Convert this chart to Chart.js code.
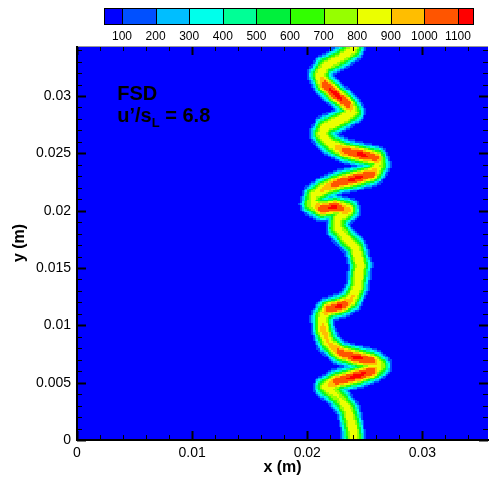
<!DOCTYPE html>
<html>
<head>
<meta charset="utf-8">
<script src="https://cdn.jsdelivr.net/npm/chart.js@4/dist/chart.umd.min.js"></script>
<style>
  body { margin: 0; background: #fff; }
</style>
</head>
<body>
<canvas id="fsd" width="489" height="480"></canvas>
<script>
// flame front centre line (m), bottom to top
var flameX = [0.02409, 0.02391, 0.02357, 0.02270, 0.02157, 0.02261, 0.02435, 0.02565, 0.02635, 0.02565,
              0.02443, 0.02287, 0.02183, 0.02139, 0.02130, 0.02183, 0.02287, 0.02374, 0.02435, 0.02461,
              0.02417, 0.02330, 0.02261, 0.02270, 0.02357, 0.02243, 0.02130, 0.02035, 0.02061, 0.02157,
              0.02287, 0.02435, 0.02565, 0.02626, 0.02600, 0.02478, 0.02330, 0.02200, 0.02122, 0.02157,
              0.02287, 0.02400, 0.02348, 0.02243, 0.02157, 0.02104, 0.02157, 0.02287, 0.02391, 0.02417];
var flameY = [-0.00035, 0.00113, 0.00262, 0.00375, 0.00462, 0.00515, 0.00558, 0.00602, 0.00645, 0.00689,
              0.00715, 0.00759, 0.00846, 0.00959, 0.01073, 0.01142, 0.01169, 0.01212, 0.01334, 0.01526,
              0.01683, 0.01770, 0.01849, 0.01936, 0.02006, 0.02032, 0.02014, 0.02058, 0.02137, 0.02198,
              0.02250, 0.02285, 0.02320, 0.02398, 0.02459, 0.02485, 0.02520, 0.02581, 0.02669, 0.02730,
              0.02791, 0.02860, 0.02930, 0.03017, 0.03096, 0.03183, 0.03262, 0.03331, 0.03401, 0.03471];
// peak FSD along the centre line
var flamePeak = [900, 900, 850, 800, 850, 1080, 1130, 1080, 800, 1050,
                 1130, 1050, 900, 950, 850, 1050, 1130, 950, 850, 900,
                 850, 850, 850, 850, 950, 1130, 1080, 800, 850, 950,
                 1080, 1130, 1050, 800, 1050, 1130, 1050, 850, 850, 900,
                 900, 850, 1080, 1130, 1080, 850, 850, 850, 850, 850];
var flameWidth = 0.0008; // thickness of the FSD profile (m)

var levels = [100, 200, 300, 400, 500, 600, 700, 800, 900, 1000, 1100];
var levelColors = ['#0000ff', '#0050ff', '#00beff', '#00ffeb', '#00ff96', '#00f03c',
                   '#32ff00', '#96ff00', '#ebff00', '#ffbe00', '#ff5500', '#ff0000'];

var xTickVals = [0, 0.01, 0.02, 0.03];
var xTickLabels = ['0', '0.01', '0.02', '0.03'];
var yTickVals = [0, 0.005, 0.01, 0.015, 0.02, 0.025, 0.03];
var yTickLabels = ['0', '0.005', '0.01', '0.015', '0.02', '0.025', '0.03'];

var FONT = '"Liberation Sans", Arial, sans-serif';

function fsdAt(x, y) {
    var best = 0;
    for (var i = 0; i < flameX.length - 1; i++) {
        var ax = flameX[i], ay = flameY[i];
        var bx = flameX[i + 1], by = flameY[i + 1];
        var dx = bx - ax, dy = by - ay;
        var t = ((x - ax) * dx + (y - ay) * dy) / (dx * dx + dy * dy);
        if (t < 0) t = 0;
        if (t > 1) t = 1;
        var px = ax + t * dx - x, py = ay + t * dy - y;
        var d = Math.sqrt(px * px + py * py) / flameWidth;
        var peak = flamePeak[i] + t * (flamePeak[i + 1] - flamePeak[i]);
        var v = peak * Math.exp(-Math.pow(d, 2.5));
        if (v > best) best = v;
    }
    return best;
}

function levelColor(v) {
    var k = 0;
    while (k < levels.length && v >= levels[k]) k++;
    return levelColors[k];
}

var fieldPlugin = {
    id: 'field',
    beforeDatasetsDraw: function(chart) {
        var ctx = chart.ctx, xs = chart.scales.x, ys = chart.scales.y, a = chart.chartArea;
        ctx.save();
        ctx.fillStyle = levelColors[0];
        ctx.fillRect(a.left, a.top, a.right - a.left, a.bottom - a.top);
        var step = 0.00016;
        for (var x = xs.min; x < xs.max; x += step) {
            var x0 = Math.round(xs.getPixelForValue(x));
            var x1 = Math.round(xs.getPixelForValue(Math.min(x + step, xs.max)));
            for (var y = ys.min; y < ys.max; y += step) {
                var v = fsdAt(x + step / 2, y + step / 2);
                if (v < levels[0]) continue;
                var y0 = Math.round(ys.getPixelForValue(y));
                var y1 = Math.round(ys.getPixelForValue(Math.min(y + step, ys.max)));
                ctx.fillStyle = levelColor(v);
                ctx.fillRect(x0, y1, x1 - x0, y0 - y1);
            }
        }
        ctx.restore();
    },
    afterDraw: function(chart) {
        var ctx = chart.ctx, xs = chart.scales.x, ys = chart.scales.y, a = chart.chartArea;
        ctx.save();
        ctx.strokeStyle = '#000';
        // inward ticks, x every 0.002, y every 0.001
        for (var k = 0; k * 0.002 <= xs.max + 1e-9; k++) {
            var px = Math.round(xs.getPixelForValue(k * 0.002)) + 0.5;
            var major = k % 5 === 0;
            var len = major ? 9 : 5;
            ctx.lineWidth = major ? 2 : 1;
            ctx.beginPath();
            ctx.moveTo(px, a.bottom); ctx.lineTo(px, a.bottom - len);
            ctx.moveTo(px, a.top); ctx.lineTo(px, a.top + len);
            ctx.stroke();
        }
        for (var j = 0; j * 0.001 <= ys.max + 1e-9; j++) {
            var py = Math.round(ys.getPixelForValue(j * 0.001)) + 0.5;
            var maj = j % 5 === 0;
            var l = maj ? 9 : 5;
            ctx.lineWidth = maj ? 2 : 1;
            ctx.beginPath();
            ctx.moveTo(a.left, py); ctx.lineTo(a.left + l, py);
            ctx.moveTo(a.right, py); ctx.lineTo(a.right - l, py);
            ctx.stroke();
        }
        // frame
        ctx.strokeStyle = '#999';
        ctx.lineWidth = 1;
        ctx.beginPath();
        ctx.moveTo(a.left, a.top + 0.5); ctx.lineTo(a.right, a.top + 0.5);
        ctx.stroke();
        ctx.strokeStyle = '#000';
        ctx.lineWidth = 2;
        ctx.beginPath();
        ctx.moveTo(a.left, a.top); ctx.lineTo(a.left, a.bottom);
        ctx.lineTo(chart.width, a.bottom);
        ctx.stroke();

        // label in the plot
        ctx.fillStyle = '#000';
        ctx.textBaseline = 'alphabetic';
        ctx.textAlign = 'left';
        var tx = xs.getPixelForValue(0.0035);
        ctx.font = 'bold 20px ' + FONT;
        ctx.fillText('FSD', tx, ys.getPixelForValue(0.02965));
        var by = ys.getPixelForValue(0.02773);
        var s1 = 'u\u2019/s';
        ctx.fillText(s1, tx, by);
        var w1 = ctx.measureText(s1).width;
        ctx.font = 'bold 13px ' + FONT;
        ctx.fillText('L', tx + w1, by + 5);
        var w2 = ctx.measureText('L').width;
        ctx.font = 'bold 20px ' + FONT;
        ctx.fillText(' = 6.8', tx + w1 + w2, by);

        // colour bar
        var cbTop = 8, cbH = 16;
        var cbx = function(v) { return 122 + (v - 100) * 0.336; };
        var edges = [cbx(46)].concat(levels.map(cbx)).concat([cbx(1145)]);
        for (var c = 0; c < levelColors.length; c++) {
            var e0 = Math.round(edges[c]), e1 = Math.round(edges[c + 1]);
            ctx.fillStyle = levelColors[c];
            ctx.fillRect(e0, cbTop, e1 - e0, cbH);
            ctx.strokeStyle = '#000';
            ctx.lineWidth = 1;
            ctx.strokeRect(e0 + 0.5, cbTop + 0.5, e1 - e0, cbH);
        }
        ctx.fillStyle = '#000';
        ctx.font = '12px ' + FONT;
        ctx.textAlign = 'center';
        levels.forEach(function(v) {
            ctx.fillText(String(v), cbx(v), 40);
        });
        ctx.restore();
    }
};

var ctx = document.getElementById('fsd').getContext('2d');
var myChart = new Chart(ctx, {
    type: 'scatter',
    data: {
        datasets: [{
            label: 'flame front',
            data: flameX.map(function(x, i) { return { x: x, y: flameY[i] }; }),
            pointRadius: 0,
            showLine: false
        }]
    },
    options: {
        responsive: false,
        animation: false,
        devicePixelRatio: 1,
        layout: { padding: { top: 46, right: 1, bottom: 3, left: 10 } },
        plugins: { legend: { display: false }, tooltip: { enabled: false } },
        scales: {
            x: {
                type: 'linear',
                bounds: 'data',
                min: 0,
                max: 0.0357,
                grid: { display: false, drawTicks: false },
                border: { display: false },
                afterBuildTicks: function(s) { s.ticks = xTickVals.map(function(v) { return { value: v }; }); },
                afterFit: function(s) { s.height = 37; },
                ticks: {
                    autoSkip: false,
                    maxRotation: 0,
                    padding: 5,
                    color: '#000',
                    font: { family: FONT, size: 14 },
                    callback: function(v, i) { return xTickLabels[i]; }
                },
                title: {
                    display: true,
                    text: 'x (m)',
                    color: '#000',
                    padding: 0,
                    font: { family: FONT, size: 16, weight: 'bold' }
                }
            },
            y: {
                type: 'linear',
                bounds: 'data',
                min: 0,
                max: 0.03436,
                grid: { display: false, drawTicks: false },
                border: { display: false },
                afterBuildTicks: function(s) { s.ticks = yTickVals.map(function(v) { return { value: v }; }); },
                afterFit: function(s) { s.width = 67; },
                ticks: {
                    autoSkip: false,
                    padding: 6,
                    color: '#000',
                    font: { family: FONT, size: 14 },
                    callback: function(v, i) { return yTickLabels[i]; }
                },
                title: {
                    display: true,
                    text: 'y (m)',
                    color: '#000',
                    padding: 0,
                    font: { family: FONT, size: 16, weight: 'bold' }
                }
            }
        }
    },
    plugins: [fieldPlugin]
});
</script>
</body>
</html>
